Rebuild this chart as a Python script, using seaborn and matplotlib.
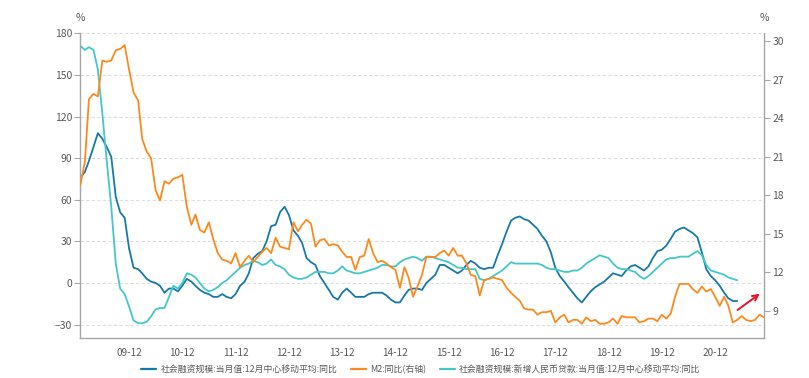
import matplotlib
matplotlib.use("Agg")
import matplotlib.pyplot as plt
import seaborn as sns
import pandas as pd

# monthly data, 2009-01 onwards
sf_ma = [76, 80, 88, 98, 108, 104, 98, 91, 62, 51, 47, 25,
         11, 10, 7, 3, 1, 0, -2, -7, -4, -4, -6, -2,
         3, 1, -2, -5, -7, -8, -10, -10, -8, -10, -11, -8,
         -2, 1, 7, 18, 21, 23, 30, 41, 42, 51, 55, 49,
         38, 34, 29, 18, 15, 13, 5, 0, -5, -10, -12, -7,
         -4, -7, -10, -10, -10, -8, -7, -7, -7, -9, -12, -14,
         -14, -9, -5, -4, -4, -5, 0, 3, 6, 13, 13, 11,
         9, 7, 9, 13, 16, 14, 11, 10, 11, 11, 20, 28,
         37, 45, 47, 48, 46, 45, 42, 39, 34, 30, 22, 11,
         5, 1, -3, -7, -11, -14, -10, -6, -3, -1, 1, 4,
         7, 6, 5, 9, 12, 13, 11, 9, 12, 18, 23, 24,
         27, 32, 37, 39, 40, 38, 36, 33, 22, 10, 5, 2,
         -2, -7, -11, -13, -13]

loan_ma = [171, 168, 170, 168, 154, 122, 88, 55, 14, -4, -8, -17,
           -27, -29, -29, -28, -24, -19, -18, -18, -10, -2, -4, 0,
           7, 6, 4, 0, -4, -6, -5, -3, 0, 2, 5, 8,
           11, 13, 14, 16, 15, 13, 14, 17, 13, 12, 10, 6,
           4, 3, 3, 4, 6, 8, 8, 8, 7, 7, 9, 12,
           9, 8, 7, 7, 8, 9, 10, 11, 13, 13, 12, 12,
           15, 17, 18, 19, 18, 16, 19, 19, 18, 17, 16, 15,
           13, 11, 11, 10, 10, 10, 3, 2, 3, 5, 7, 9,
           12, 15, 14, 14, 14, 14, 14, 14, 13, 11, 10, 10,
           9, 8, 8, 9, 9, 11, 14, 16, 18, 20, 19, 18,
           14, 11, 10, 10, 9, 8, 5, 3, 5, 8, 11, 14,
           17, 18, 18, 19, 19, 19, 21, 23, 20, 13, 9, 8,
           7, 6, 4, 3, 2]

m2_yoy = [18.8, 20.6, 25.5, 25.9, 25.7, 28.5, 28.4, 28.5, 29.3, 29.4, 29.7, 27.8,
          26.0, 25.4, 22.4, 21.4, 20.9, 18.4, 17.6, 19.1, 18.9, 19.3, 19.4, 19.6,
          17.1, 15.7, 16.5, 15.3, 15.1, 15.9, 14.6, 13.5, 13.0, 12.9, 12.7, 13.5,
          12.4, 12.9, 13.3, 12.8, 13.2, 13.6, 13.9, 13.5, 14.7, 14.0, 13.9, 13.8,
          15.9, 15.2, 15.7, 16.1, 15.8, 14.0, 14.5, 14.6, 14.1, 14.2, 14.1, 13.6,
          13.2, 13.2, 12.2, 13.2, 13.3, 14.6, 13.5, 12.8, 12.9, 12.7, 12.4, 12.2,
          10.8, 12.4, 11.6, 10.1, 10.9, 11.8, 13.2, 13.2, 13.2, 13.5, 13.7, 13.3,
          13.9, 13.3, 13.3, 12.7, 11.8, 11.7, 10.2, 11.4, 11.5, 11.6, 11.5, 11.4,
          10.8, 10.4, 10.1, 9.8, 9.2, 9.1, 9.1, 8.7, 8.9, 8.9, 9.0, 8.1,
          8.5, 8.7, 8.1, 8.3, 8.3, 8.0, 8.5, 8.2, 8.3, 8.0, 8.0, 8.1,
          8.4, 8.0, 8.6, 8.5, 8.5, 8.5, 8.1, 8.2, 8.4, 8.4, 8.2, 8.7,
          8.4, 8.8, 10.1, 11.1, 11.1, 11.1, 10.7, 10.4, 10.9, 10.5, 10.7, 10.1,
          9.4, 10.1, 9.4, 8.1, 8.3, 8.6, 8.3, 8.2, 8.3, 8.7, 8.5]

labels = ["社会融资规模:当月值:12月中心移动平均:同比",
          "M2:同比(右轴)",
          "社会融资规模:新增人民币贷款:当月值:12月中心移动平均:同比"]
colors = ["#1779a8", "#fb8a1e", "#45c6c8"]

dates = pd.date_range("2009-01-01", periods=len(m2_yoy), freq="MS")
df_left = pd.DataFrame({"date": dates[:len(sf_ma)], "sf": sf_ma, "loan": loan_ma})
df_right = pd.DataFrame({"date": dates, "m2": m2_yoy})

sns.set_style("white")
plt.rcParams["font.family"] = ["Noto Sans CJK SC", "DejaVu Sans"]

grey = "#595959"
axis_grey = "#a6a6a6"

fig = plt.figure(figsize=(8.09, 3.78), dpi=100)
ax = fig.add_axes([0.0993, 0.1045, 0.8451, 0.8074])
ax2 = ax.twinx()

sns.lineplot(data=df_left, x="date", y="sf", color=colors[0], linewidth=1.3, ax=ax, legend=False)
sns.lineplot(data=df_left, x="date", y="loan", color=colors[2], linewidth=1.3, ax=ax, legend=False)
sns.lineplot(data=df_right, x="date", y="m2", color=colors[1], linewidth=1.3, ax=ax2, legend=False)

ax.set_xlim(dates[0], dates[-1])
ax.set_ylim(-40, 180)
ax.set_yticks(range(-30, 181, 30))
ax2.set_ylim(6.85, 30.62)
ax2.set_yticks(range(9, 31, 3))

xt = pd.date_range("2009-12-01", "2020-12-01", freq="12MS")
ax.set_xticks(xt)
ax.set_xticklabels([d.strftime("%y-%m") for d in xt])

ax.grid(axis="y", linestyle=(0, (3, 2)), color="#dedede", linewidth=0.8)
ax.grid(axis="x", visible=False)
ax2.grid(False)
ax.set_xlabel("")
ax.set_ylabel("")
ax2.set_ylabel("")

for a in (ax, ax2):
    for s in a.spines.values():
        s.set_visible(False)
ax.spines["left"].set_visible(True)
ax.spines["bottom"].set_visible(True)
ax2.spines["right"].set_visible(True)
for s in (ax.spines["left"], ax.spines["bottom"], ax2.spines["right"]):
    s.set_color(axis_grey)
    s.set_linewidth(1.0)

ax.tick_params(axis="both", labelsize=7.5, colors=grey, length=4, width=0.8,
               color=axis_grey, pad=2)
ax.tick_params(axis="x", labelsize=7.2, pad=3)
ax2.tick_params(axis="y", labelsize=7.5, colors=grey, length=4, width=0.8,
                color=axis_grey, pad=2)

ax.text(0.0, 1.035, "%", transform=ax.transAxes, ha="center", va="bottom",
        fontsize=7.5, color=grey)
ax2.text(1.0, 1.035, "%", transform=ax2.transAxes, ha="center", va="bottom",
         fontsize=7.5, color=grey)

ax2.annotate("", xy=(0.997, 0.152), xytext=(0.958, 0.088),
             xycoords="axes fraction", textcoords="axes fraction",
             arrowprops=dict(arrowstyle="->", color="#e8102a", lw=1.4))

handles = [plt.Line2D([], [], color=c, linewidth=1.6) for c in colors]
fig.legend(handles, labels, loc="center", bbox_to_anchor=(0.52, 0.022), ncol=3,
           frameon=False, fontsize=6.4, labelcolor=grey, handlelength=1.7,
           handletextpad=0.5, columnspacing=1.5)

fig.savefig("out.png", dpi=100)
